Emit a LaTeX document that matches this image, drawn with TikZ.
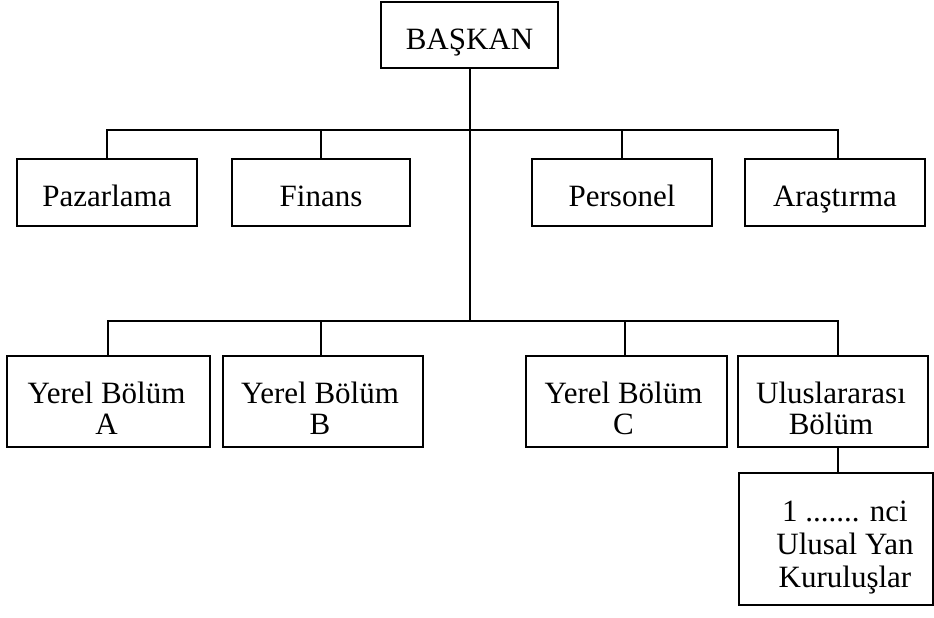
\documentclass[tikz,border=0pt]{standalone}
\usepackage{fontspec}
\setmainfont{Liberation Serif}
\begin{document}
\begin{tikzpicture}[x=1bp,y=-1bp,
  line width=1.8bp,
  unit/.style={draw, line width=1.8bp, inner sep=0pt, minimum width=#1},
  onebox/.style={unit=#1, minimum height=67bp,
    font=\fontsize{31bp}{32bp}\selectfont, text height=29bp, text depth=0bp},
  twobox/.style={unit=#1, minimum height=91bp},
  lbl/.style={font=\fontsize{31bp}{31bp}\selectfont, align=center, inner sep=0pt},
  lbltall/.style={font=\fontsize{31bp}{33bp}\selectfont, align=center, inner sep=0pt}]
\useasboundingbox (0,0) rectangle (934,618);

% top of the chart
\node[onebox=177bp, minimum height=66bp] (bas) at (469.5,35) {BAŞKAN};

% staff departments
\node[onebox=180bp] (paz) at (107,192.5) {Pazarlama};
\node[onebox=178bp] (fin) at (321,192.5) {Finans};
\node[onebox=180bp] (per) at (622,192.5) {Personel};
\node[onebox=180bp] (ara) at (835,192.5) {Araştırma};

% line divisions
\node[twobox=203bp] (ya) at (108.5,401.5) {};
\node[twobox=200bp] (yb) at (323,401.5) {};
\node[twobox=201bp] (yc) at (626.5,401.5) {};
\node[twobox=190bp] (ub) at (833,401.5) {};
\node[lbl] (yat) at ([xshift=-2bp,yshift=-7bp]ya.center) {Yerel Bölüm\\A};
\node[lbl] (ybt) at ([xshift=-3bp,yshift=-7bp]yb.center) {Yerel Bölüm\\B};
\node[lbl] (yct) at ([xshift=-3bp,yshift=-7bp]yc.center) {Yerel Bölüm\\C};
\node[lbl] (ubt) at ([xshift=-2bp,yshift=-7bp]ub.center) {Uluslararası\\Bölüm};

% national subsidiaries
\node[unit=194bp, minimum height=132bp] (sub) at (836,539) {};
\node[lbltall] (subt) at ([xshift=9bp,yshift=-9bp]sub.center) {1 ....... nci\\Ulusal Yan\\Kuruluşlar};

% trunk and buses
\coordinate (bt) at (470,130);
\coordinate (bb) at (470,321);
\draw (bas.south -| bt) -- (bb);

\draw (paz.north) -- (paz.north |- bt) -- ([xshift=3bp]ara.north |- bt) -- ([xshift=3bp]ara.north);
\draw (fin.north) -- (fin.north |- bt);
\draw (per.north) -- (per.north |- bt);

\draw ([xshift=-0.5bp]ya.north) -- ([xshift=-0.5bp]ya.north |- bb) -- ([xshift=5bp]ub.north |- bb) -- ([xshift=5bp]ub.north);
\draw ([xshift=-2bp]yb.north) -- ([xshift=-2bp]yb.north |- bb);
\draw ([xshift=-1.5bp]yc.north) -- ([xshift=-1.5bp]yc.north |- bb);

\draw ([xshift=5bp]ub.south) -- ([xshift=5bp]ub.south |- sub.north);
\end{tikzpicture}
\end{document}
